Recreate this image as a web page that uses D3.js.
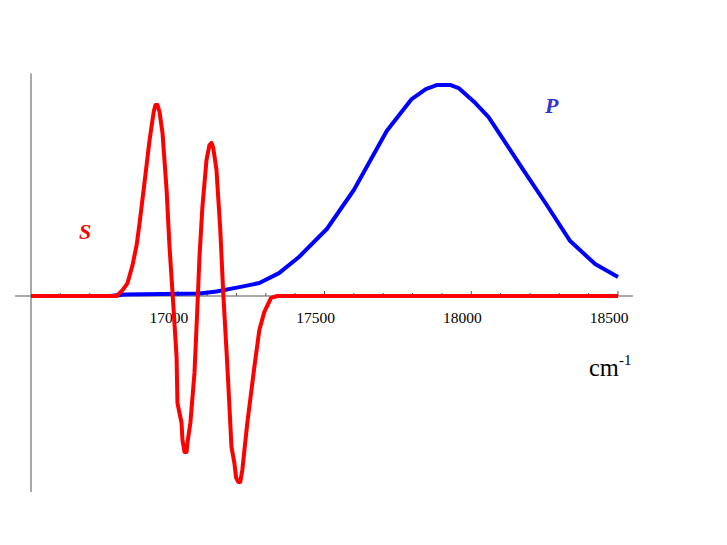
<!DOCTYPE html>
<html>
<head>
<meta charset="utf-8">
<script src="https://cdn.jsdelivr.net/npm/d3@7"></script>
<style>
  html, body { margin: 0; padding: 0; background: #fff; }
  svg { display: block; }
</style>
</head>
<body>
<svg id="chart" width="727" height="545"></svg>
<script>
// ---- data (wavenumber cm^-1, relative amplitude) ----
const sWave = [16500, 16751, 16792, 16812, 16829, 16846, 16860, 16870, 16887, 16904, 16918, 16924, 16931, 16938, 16948, 16962, 16972, 16986, 16996, 16999, 17013, 17016, 17023, 17030, 17033, 17043, 17057, 17067, 17074, 17084, 17098, 17108, 17115, 17121, 17132, 17145, 17155, 17166, 17172, 17183, 17193, 17199, 17206, 17213, 17220, 17237, 17261, 17278, 17295, 17318, 17339, 18500];
const sValues = [0, 0, 0, 0.028, 0.061, 0.146, 0.241, 0.344, 0.538, 0.736, 0.868, 0.901, 0.901, 0.868, 0.769, 0.5, 0.231, -0.066, -0.288, -0.505, -0.599, -0.679, -0.736, -0.736, -0.693, -0.599, -0.363, -0.052, 0.184, 0.42, 0.642, 0.712, 0.722, 0.698, 0.594, 0.311, 0.014, -0.255, -0.41, -0.712, -0.788, -0.858, -0.877, -0.877, -0.821, -0.599, -0.335, -0.16, -0.075, -0.009, 0, 0];

const pWave = [16500, 16768, 16819, 17074, 17132, 17210, 17278, 17345, 17413, 17508, 17600, 17712, 17797, 17845, 17882, 17930, 17957, 18014, 18059, 18171, 18255, 18337, 18422, 18500];
const pValues = [0, 0, 0.007, 0.012, 0.021, 0.042, 0.061, 0.108, 0.184, 0.316, 0.5, 0.778, 0.929, 0.976, 0.995, 0.995, 0.981, 0.91, 0.844, 0.608, 0.434, 0.259, 0.151, 0.09];

const majorTicks = [17000, 17500, 18000, 18500];
const majorLabels = ["17000", "17500", "18000", "18500"];
const minorTicks = d3.range(16600, 18501, 100);

const xLabel = "cm";
const xLabelSup = "-1";
const sLabel = "S";
const pLabel = "P";

// ---- scales ----
const x = d3.scaleLinear().domain([16500, 18500]).range([31, 618]);
const y = d3.scaleLinear().domain([0, 1]).range([296, 84]);

const svg = d3.select("#chart");
const axisColor = "#555";
const serif = "'Liberation Serif', 'Times New Roman', serif";

// axes lines
svg.append("line")
  .attr("x1", 15).attr("x2", 633)
  .attr("y1", y(0)).attr("y2", y(0))
  .attr("stroke", axisColor).attr("stroke-width", 1);
svg.append("line")
  .attr("x1", x(16500)).attr("x2", x(16500))
  .attr("y1", y(1.05)).attr("y2", y(-0.925))
  .attr("stroke", axisColor).attr("stroke-width", 1);

// ticks (pointing up)
svg.append("g").selectAll("line.minor")
  .data(minorTicks.filter(t => !majorTicks.includes(t)))
  .join("line")
  .attr("x1", d => x(d)).attr("x2", d => x(d))
  .attr("y1", y(0)).attr("y2", y(0) - 3)
  .attr("stroke", axisColor).attr("stroke-width", 1);
svg.append("g").selectAll("line.major")
  .data(majorTicks)
  .join("line")
  .attr("x1", d => x(d)).attr("x2", d => x(d))
  .attr("y1", y(0)).attr("y2", y(0) - 5)
  .attr("stroke", axisColor).attr("stroke-width", 1);
svg.append("g").selectAll("text")
  .data(majorTicks)
  .join("text")
  .attr("x", d => x(d) - 9)
  .attr("y", 323)
  .attr("text-anchor", "middle")
  .attr("font-family", serif)
  .attr("font-size", 15.5)
  .attr("fill", "#000")
  .text((d, i) => majorLabels[i]);

// axis label cm^-1
const lab = svg.append("text")
  .attr("x", 589).attr("y", 376)
  .attr("font-family", serif)
  .attr("font-size", 24.5)
  .attr("fill", "#000");
lab.append("tspan").text(xLabel);
lab.append("tspan").attr("dy", -11).attr("font-size", 15).text(xLabelSup);

// curves
const line = d3.line().x(d => x(d[0])).y(d => y(d[1]));
svg.append("path")
  .datum(d3.zip(pWave, pValues))
  .attr("d", line)
  .attr("fill", "none")
  .attr("stroke", "#0000ff")
  .attr("stroke-width", 4)
  .attr("stroke-linejoin", "round");
svg.append("path")
  .datum(d3.zip(sWave, sValues))
  .attr("d", line)
  .attr("fill", "none")
  .attr("stroke", "#ff0000")
  .attr("stroke-width", 4)
  .attr("stroke-linejoin", "round");

// curve labels
svg.append("text")
  .attr("x", 79).attr("y", 239)
  .attr("font-family", serif)
  .attr("font-size", 22)
  .attr("font-style", "italic")
  .attr("font-weight", "bold")
  .attr("fill", "#ff0000")
  .text(sLabel);
svg.append("text")
  .attr("x", 545).attr("y", 113)
  .attr("font-family", serif)
  .attr("font-size", 22)
  .attr("font-style", "italic")
  .attr("font-weight", "bold")
  .attr("fill", "#3333cc")
  .text(pLabel);
</script>
</body>
</html>
